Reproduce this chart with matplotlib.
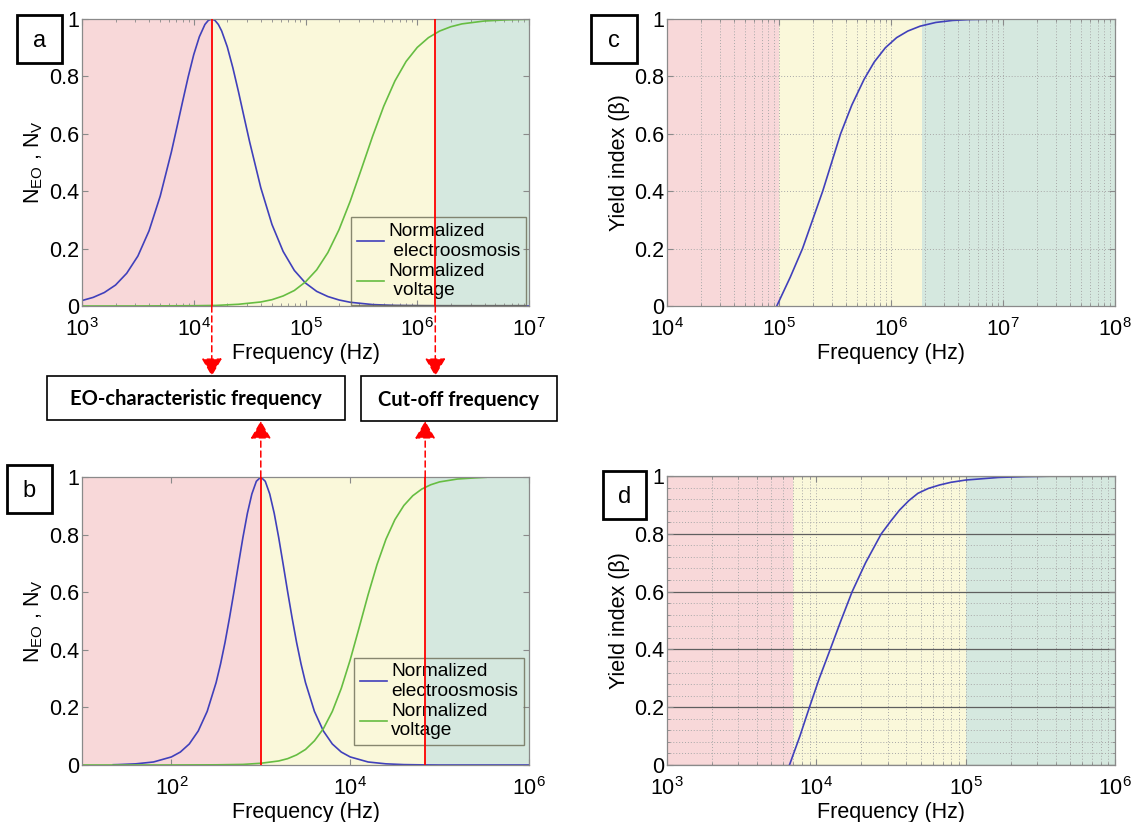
import numpy as np
import matplotlib
matplotlib.use("Agg")
import matplotlib.pyplot as plt
from matplotlib.patches import Rectangle
from matplotlib.ticker import FixedLocator, NullLocator, LogLocator, FuncFormatter, MultipleLocator

plt.rcParams["font.family"] = ["Liberation Sans", "DejaVu Sans"]
plt.rcParams["mathtext.fontset"] = "custom"
plt.rcParams["mathtext.rm"] = "Liberation Sans"
plt.rcParams["mathtext.it"] = "Liberation Sans:italic"

# ── data (log10 of frequency, value) ──
a_eo_lf = [3.0, 3.1, 3.2, 3.3, 3.4, 3.5, 3.6, 3.7, 3.8, 3.85, 3.9, 3.95, 4.0, 4.05, 4.1, 4.13,
           4.16, 4.19, 4.22, 4.25, 4.3, 4.35, 4.4, 4.45, 4.5, 4.6, 4.7, 4.8, 4.9, 5.0, 5.1,
           5.2, 5.3, 5.4, 5.6, 5.8, 6.0, 6.5, 7.0]
a_eo = [0.019, 0.030, 0.047, 0.073, 0.114, 0.174, 0.262, 0.383, 0.537, 0.624, 0.712, 0.798,
        0.876, 0.938, 0.981, 0.995, 1.0, 0.995, 0.981, 0.958, 0.903, 0.830, 0.747, 0.659,
        0.572, 0.412, 0.284, 0.190, 0.124, 0.080, 0.051, 0.033, 0.021, 0.013, 0.005, 0.002,
        0.001, 0.0, 0.0]
a_v_lf = [3.0, 3.5, 4.0, 4.2, 4.4, 4.6, 4.7, 4.8, 4.9, 5.0, 5.1, 5.2, 5.3, 5.4, 5.5, 5.6, 5.7,
          5.8, 5.9, 6.0, 6.1, 6.2, 6.3, 6.4, 6.6, 6.8, 7.0]
a_v = [0.0, 0.0001, 0.001, 0.002, 0.006, 0.014, 0.022, 0.035, 0.054, 0.084, 0.126, 0.186, 0.266,
       0.365, 0.477, 0.591, 0.696, 0.784, 0.852, 0.901, 0.935, 0.958, 0.973, 0.983, 0.993,
       0.997, 0.999]
a_f_eo = 1.45e4
a_f_cut = 1.45e6

b_eo_lf = [1.35, 1.4, 1.6, 1.8, 2.0, 2.1, 2.2, 2.3, 2.4, 2.5, 2.55, 2.6, 2.65, 2.7, 2.75, 2.8,
           2.85, 2.9, 2.95, 3.0, 3.05, 3.1, 3.15, 3.2, 3.25, 3.3, 3.35, 3.4, 3.45, 3.5, 3.6,
           3.7, 3.8, 3.9, 4.0, 4.2, 4.4, 4.6, 4.8, 5.0, 6.0]
b_eo = [0.001, 0.0014, 0.004, 0.0105, 0.028, 0.045, 0.073, 0.118, 0.186, 0.286, 0.351, 0.426,
        0.511, 0.602, 0.697, 0.790, 0.874, 0.941, 0.985, 1.0, 0.985, 0.941, 0.874, 0.790,
        0.697, 0.602, 0.511, 0.426, 0.351, 0.286, 0.186, 0.118, 0.073, 0.045, 0.028, 0.0105,
        0.004, 0.0014, 0.0005, 0.0, 0.0]
b_v_lf = [1.0, 2.0, 2.5, 2.8, 3.0, 3.2, 3.3, 3.4, 3.5, 3.6, 3.7, 3.8, 3.9, 4.0, 4.1, 4.2, 4.3,
          4.4, 4.5, 4.6, 4.7, 4.8, 4.9, 5.0, 5.2, 5.4, 5.52]
b_v = [0.0, 0.0001, 0.0006, 0.002, 0.006, 0.014, 0.022, 0.035, 0.054, 0.084, 0.126, 0.186,
       0.266, 0.365, 0.477, 0.591, 0.696, 0.784, 0.852, 0.901, 0.935, 0.958, 0.973, 0.983,
       0.993, 0.997, 0.999]
b_f_eo = 1.0e3
b_f_cut = 6.9e4

c_lf = [4.98, 5.10, 5.21, 5.30, 5.39, 5.47, 5.55, 5.65, 5.76, 5.85, 5.95, 6.05, 6.15, 6.26,
        6.40, 6.55, 6.70, 6.98]
c_beta = [0.0, 0.10, 0.20, 0.30, 0.40, 0.50, 0.60, 0.70, 0.79, 0.85, 0.90, 0.935, 0.958, 0.975,
          0.988, 0.995, 0.998, 1.0]
c_bounds = [1e4, 1e5, 1.88e6, 1e8]

d_lf = [3.82, 3.89, 3.954, 4.02, 4.093, 4.165, 4.24, 4.33, 4.435, 4.50, 4.557, 4.62, 4.68,
        4.75, 4.826, 4.90, 5.0, 5.22, 5.40, 5.62]
d_beta = [0.0, 0.10, 0.20, 0.30, 0.40, 0.50, 0.60, 0.70, 0.80, 0.845, 0.882, 0.915, 0.94,
          0.957, 0.969, 0.978, 0.986, 0.995, 0.998, 1.0]
d_bounds = [1e3, 6.97e3, 1e5, 1e6]

# ── style ──
W, H = 1132, 822
PINK, YELLOW, GREEN = "#F8D8D9", "#FAF8DA", "#D5E8DF"
BLUE, LGREEN = "#4040bb", "#66bd42"
SPINE = "#8a8a8a"
FS = 15.5
LEG_FS = 13.8

fig = plt.figure(figsize=(W / 100, H / 100), dpi=100)


def px_axes(x0, y0, x1, y1):
    return fig.add_axes([x0 / W, 1 - y1 / H, (x1 - x0) / W, (y1 - y0) / H])


ax_a = px_axes(82, 19, 529, 306)
ax_c = px_axes(667, 19, 1115, 306)
ax_b = px_axes(82, 477, 529, 765)
ax_d = px_axes(667, 476, 1115, 765)

yfmt = FuncFormatter(lambda v, _: f"{v:g}")


def base_style(ax, xlim):
    ax.set_xscale("log")
    ax.set_xlim(*xlim)
    ax.set_ylim(0, 1)
    ax.yaxis.set_major_locator(MultipleLocator(0.2))
    ax.yaxis.set_major_formatter(yfmt)
    ax.tick_params(which="both", direction="in", top=True, right=True, colors=SPINE,
                   labelcolor="black", labelsize=FS)
    ax.tick_params(axis="y", pad=2)
    ax.tick_params(axis="x", pad=9)
    ax.tick_params(which="major", length=4)
    ax.tick_params(which="minor", length=2.5)
    for s in ax.spines.values():
        s.set_color(SPINE)
        s.set_linewidth(0.9)
    ax.set_xlabel("Frequency (Hz)", fontsize=FS, labelpad=1)


def regions(ax, bounds):
    for (lo, hi), col in zip(zip(bounds[:-1], bounds[1:]), [PINK, YELLOW, GREEN]):
        ax.axvspan(lo, hi, color=col, lw=0, zorder=0)


# panel a
base_style(ax_a, (1e3, 1e7))
regions(ax_a, [1e3, a_f_eo, a_f_cut, 1e7])
ax_a.plot(10 ** np.array(a_eo_lf), a_eo, color=BLUE, lw=1.2, label="Normalized\n electroosmosis")
ax_a.plot(10 ** np.array(a_v_lf), a_v, color=LGREEN, lw=1.2, label="Normalized\n voltage")
for f in (a_f_eo, a_f_cut):
    ax_a.axvline(f, color="red", lw=1.3, zorder=6)
ax_a.set_ylabel(r"$\mathrm{N_{EO}}$ , $\mathrm{N_{V}}$", fontsize=FS, labelpad=3)

# panel b
base_style(ax_b, (1e1, 1e6))
ax_b.xaxis.set_major_locator(FixedLocator([1e2, 1e4, 1e6]))
ax_b.xaxis.set_minor_locator(NullLocator())
regions(ax_b, [1e1, b_f_eo, b_f_cut, 1e6])
ax_b.plot(10 ** np.array(b_eo_lf), b_eo, color=BLUE, lw=1.2, label="Normalized\nelectroosmosis")
ax_b.plot(10 ** np.array(b_v_lf), b_v, color=LGREEN, lw=1.2, label="Normalized\nvoltage")
for f in (b_f_eo, b_f_cut):
    ax_b.axvline(f, color="red", lw=1.3, zorder=6)
ax_b.set_ylabel(r"$\mathrm{N_{EO}}$ , $\mathrm{N_{V}}$", fontsize=FS, labelpad=3)

for ax, anchor in ((ax_a, (0.994, 0.004)), (ax_b, (0.989, 0.069))):
    leg = ax.legend(loc="lower right", bbox_to_anchor=anchor, borderaxespad=0, fontsize=LEG_FS,
                    handlelength=1.45, handletextpad=0.2, borderpad=0.3, labelspacing=0.15,
                    fancybox=False)
    leg.get_frame().set_facecolor("none")
    leg.get_frame().set_edgecolor("#6b6b55")
    leg.get_frame().set_linewidth(1.0)

# panel c
base_style(ax_c, (1e4, 1e8))
regions(ax_c, c_bounds)
ax_c.xaxis.set_minor_locator(LogLocator(subs=np.arange(2, 10)))
ax_c.grid(which="both", axis="x", color="#a8a8a8", lw=0.7, ls=(0, (1, 2)))
ax_c.grid(which="major", axis="y", color="#a8a8a8", lw=0.7, ls=(0, (1, 2)))
ax_c.plot(10 ** np.array(c_lf), c_beta, color=BLUE, lw=1.2)
ax_c.set_ylabel("Yield index (\u03b2)", fontsize=FS, labelpad=3)

# panel d
base_style(ax_d, (1e3, 1e6))
regions(ax_d, d_bounds)
ax_d.xaxis.set_minor_locator(LogLocator(subs=np.arange(2, 10)))
ax_d.yaxis.set_minor_locator(MultipleLocator(0.04))
ax_d.grid(which="both", axis="x", color="#a8a8a8", lw=0.7, ls=(0, (1, 2)))
ax_d.grid(which="minor", axis="y", color="#a8a8a8", lw=0.7, ls=(0, (1, 2)))
ax_d.grid(which="major", axis="y", color="#5f5f5f", lw=0.9, ls="-")
ax_d.plot(10 ** np.array(d_lf), d_beta, color=BLUE, lw=1.2)
ax_d.set_ylabel("Yield index (\u03b2)", fontsize=FS, labelpad=3)


# ── panel letters ──
def letter_box(x0, y0, x1, y1, txt):
    fig.add_artist(Rectangle((x0 / W, 1 - y1 / H), (x1 - x0) / W, (y1 - y0) / H,
                             transform=fig.transFigure, fc="white", ec="black", lw=2.0))
    fig.text((x0 + x1) / 2 / W, 1 - ((y0 + y1) / 2 + 2) / H, txt, ha="center", va="center",
             fontsize=17)


letter_box(17, 15, 62, 63, "a")
letter_box(591, 15, 637, 63, "c")
letter_box(7, 465, 52, 513, "b")
letter_box(603, 471, 646, 519, "d")


# ── frequency boxes and arrows ──
def text_box(x0, y0, x1, y1, txt):
    fig.add_artist(Rectangle((x0 / W, 1 - y1 / H), (x1 - x0) / W, (y1 - y0) / H,
                             transform=fig.transFigure, fc="white", ec="black", lw=1.2))
    fig.text((x0 + x1) / 2 / W, 1 - ((y0 + y1) / 2 + 1) / H, txt, ha="center", va="center",
             fontsize=14.5, fontweight="bold", family=["Lato", "DejaVu Sans"])


text_box(47, 376, 345, 420, "EO-characteristic frequency")
text_box(361, 376, 557, 421, "Cut-off frequency")

arrow = dict(arrowstyle="-|>,head_length=0.55,head_width=0.32", color="red", lw=1.1,
             linestyle=(0, (4, 2.5)), shrinkA=0, shrinkB=0, mutation_scale=20)
for f in (a_f_eo, a_f_cut):
    ax_a.annotate("", xy=(f, 1 - 376 / H), xycoords=("data", "figure fraction"),
                  xytext=(f, 0), textcoords=("data", "axes fraction"),
                  arrowprops=arrow, annotation_clip=False)
for f in (b_f_eo, b_f_cut):
    ax_b.annotate("", xy=(f, 1 - 421 / H), xycoords=("data", "figure fraction"),
                  xytext=(f, 1), textcoords=("data", "axes fraction"),
                  arrowprops=arrow, annotation_clip=False)

fig.savefig("out.png", dpi=100)
